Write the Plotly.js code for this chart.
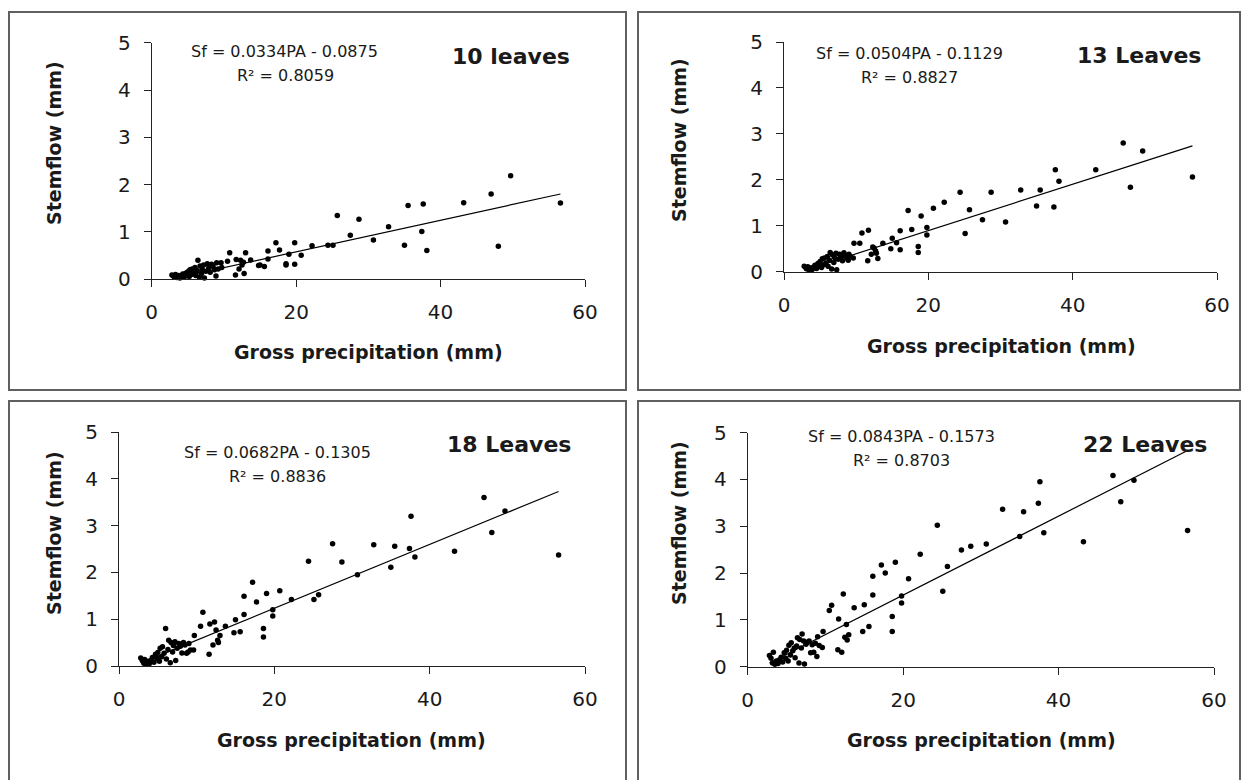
<!DOCTYPE html>
<html>
<head>
<meta charset="utf-8">
<script src="https://cdn.plot.ly/plotly-3.0.1.min.js"></script>
<style>html,body{margin:0;padding:0;background:#fff;}#chart{width:1243px;height:780px;}</style>
</head>
<body>
<div id="chart"></div>
<script>
// ---- data ----
const precip = [2.8, 3.0, 3.2, 3.3, 3.5, 3.7, 3.9, 4.1, 4.3, 4.5, 4.7, 4.9, 5.0, 5.2, 5.3, 5.5, 5.6, 5.8, 6.0, 6.1,
  6.3, 6.4, 6.6, 6.7, 6.9, 7.0, 7.2, 7.3, 7.5, 7.7, 7.9, 8.1, 8.3, 8.5, 8.7, 8.9, 9.0, 9.2,
  9.6, 9.7, 10.5, 10.8, 11.6, 11.7, 12.1, 12.3, 12.5, 12.7, 12.8, 13.0, 13.7, 14.8, 15.0, 15.6, 16.1, 16.1,
  17.2, 17.7, 18.6, 18.6, 19.0, 19.8, 19.8, 20.7, 22.2, 24.4, 25.1, 25.7, 27.5, 28.7, 30.7, 32.8, 35.0, 35.5,
  37.4, 37.6, 38.1, 43.2, 47.0, 48.0, 49.7, 56.6];
const sf10 = [0.09, 0.07, 0.05, 0.10, 0.04, 0.08, 0.03, 0.06, 0.11, 0.05, 0.13, 0.08, 0.16, 0.06, 0.20, 0.10, 0.22, 0.14, 0.25, 0.08,
  0.18, 0.40, 0.05, 0.28, 0.12, 0.21, 0.30, 0.03, 0.17, 0.33, 0.24, 0.15, 0.32, 0.27, 0.20, 0.07, 0.35, 0.22,
  0.35, 0.25, 0.38, 0.56, 0.09, 0.42, 0.22, 0.40, 0.30, 0.36, 0.12, 0.56, 0.41, 0.29, 0.30, 0.27, 0.43, 0.60,
  0.77, 0.62, 0.30, 0.33, 0.53, 0.77, 0.32, 0.51, 0.71, 0.72, 0.72, 1.35, 0.93, 1.27, 0.83, 1.11, 0.72, 1.56,
  1.01, 1.59, 0.61, 1.62, 1.80, 0.70, 2.19, 1.61];
const sf13 = [0.12, 0.09, 0.06, 0.11, 0.04, 0.08, 0.05, 0.10, 0.14, 0.07, 0.18, 0.12, 0.22, 0.09, 0.28, 0.15, 0.30, 0.19, 0.33, 0.12,
  0.25, 0.42, 0.06, 0.37, 0.20, 0.31, 0.40, 0.04, 0.27, 0.38, 0.33, 0.24, 0.41, 0.36, 0.30, 0.25, 0.38, 0.33,
  0.30, 0.62, 0.62, 0.84, 0.24, 0.90, 0.38, 0.54, 0.51, 0.45, 0.40, 0.29, 0.62, 0.50, 0.73, 0.63, 0.48, 0.89,
  1.33, 0.92, 0.42, 0.55, 1.21, 0.96, 0.80, 1.38, 1.51, 1.73, 0.83, 1.35, 1.13, 1.73, 1.08, 1.78, 1.43, 1.78,
  1.41, 2.22, 1.97, 2.22, 2.80, 1.84, 2.63, 2.06];
const sf18 = [0.17, 0.12, 0.06, 0.14, 0.04, 0.10, 0.05, 0.12, 0.18, 0.08, 0.25, 0.16, 0.29, 0.10, 0.38, 0.20, 0.41, 0.27, 0.80, 0.15,
  0.35, 0.55, 0.07, 0.50, 0.30, 0.44, 0.52, 0.12, 0.38, 0.48, 0.42, 0.28, 0.50, 0.45, 0.27, 0.30, 0.48, 0.34,
  0.34, 0.65, 0.85, 1.15, 0.25, 0.90, 0.45, 0.94, 0.77, 0.55, 0.50, 0.65, 0.85, 0.71, 0.99, 0.73, 1.10, 1.49,
  1.79, 1.37, 0.62, 0.80, 1.55, 1.20, 1.07, 1.61, 1.42, 2.24, 1.42, 1.52, 2.61, 2.22, 1.95, 2.59, 2.11, 2.56,
  2.51, 3.20, 2.33, 2.45, 3.60, 2.85, 3.31, 2.37];
const sf22 = [0.24, 0.18, 0.08, 0.31, 0.05, 0.12, 0.07, 0.15, 0.20, 0.10, 0.30, 0.18, 0.35, 0.12, 0.46, 0.25, 0.51, 0.34, 0.40, 0.19,
  0.44, 0.62, 0.08, 0.58, 0.40, 0.70, 0.55, 0.06, 0.48, 0.52, 0.55, 0.30, 0.47, 0.31, 0.50, 0.22, 0.64, 0.45,
  0.41, 0.75, 1.20, 1.31, 0.36, 1.02, 0.31, 1.55, 0.63, 0.90, 0.57, 0.68, 1.26, 0.75, 1.32, 0.86, 1.53, 1.93,
  2.17, 2.00, 0.75, 1.07, 2.23, 1.51, 1.36, 1.88, 2.40, 3.02, 1.61, 2.14, 2.49, 2.57, 2.62, 3.36, 2.78, 3.31,
  3.49, 3.95, 2.86, 2.67, 4.08, 3.52, 3.98, 2.91];
const slopes = [0.0334, 0.0504, 0.0682, 0.0843];
const intercepts = [-0.0875, -0.1129, -0.1305, -0.1573];
const rSquared = [0.8059, 0.8827, 0.8836, 0.8703];
const panelLabels = ['10 leaves', '13 Leaves', '18 Leaves', '22 Leaves'];
const xTickVals = [0, 20, 40, 60];
const yTickVals = [0, 1, 2, 3, 4, 5];
const xTitleText = 'Gross precipitation (mm)';
const yTitleText = 'Stemflow (mm)';
const series = [sf10, sf13, sf18, sf22];

// ---- layout geometry (pixels) ----
const W = 1243, H = 780;
const px = v => v / W, py = v => 1 - v / H;
const panels = [
  {plot: [151.7, 585, 42.7, 279.3], box: [9, 626, 12, 390], ytitle: [54, 143], xtitle: [368, 352], eq: [284, 52], r2: [285, 75], label: [511, 57]},
  {plot: [784, 1217, 42, 271.7], box: [638, 1240, 12, 390], ytitle: [679, 140], xtitle: [1001, 346], eq: [909, 54], r2: [909, 78], label: [1139, 56]},
  {plot: [119, 585, 432, 666], box: [9, 626, 401, 785], ytitle: [54, 533], xtitle: [351, 740], eq: [277, 452], r2: [277, 476], label: [509, 444]},
  {plot: [747.7, 1214, 432.5, 666.7], box: [638, 1240, 401, 785], ytitle: [679, 523], xtitle: [981, 740], eq: [901, 436], r2: [901, 460], label: [1145, 444]}
];

const FONT = 'DejaVu Sans';
const INK = '#1a1a1a';
const traces = [];
const annotations = [];
const shapes = [];
const layout = {
  width: W, height: H, margin: {l: 0, r: 0, t: 0, b: 0},
  paper_bgcolor: '#ffffff', plot_bgcolor: 'rgba(0,0,0,0)',
  showlegend: false, font: {family: FONT, color: INK}
};

const xMin = Math.min(...precip), xMax = Math.max(...precip);

panels.forEach((p, i) => {
  const s = i === 0 ? '' : String(i + 1);
  const xa = 'x' + s, ya = 'y' + s;
  traces.push({
    type: 'scatter', mode: 'markers', x: precip, y: series[i], xaxis: xa, yaxis: ya,
    marker: {color: '#000', size: 5.5}, cliponaxis: false, hoverinfo: 'x+y'
  });
  traces.push({
    type: 'scatter', mode: 'lines', x: [xMin, xMax],
    y: [slopes[i] * xMin + intercepts[i], slopes[i] * xMax + intercepts[i]],
    xaxis: xa, yaxis: ya, line: {color: '#000', width: 1.2}, cliponaxis: false, hoverinfo: 'skip'
  });
  const common = {
    ticks: 'outside', ticklen: 7, tickwidth: 1, tickcolor: '#222',
    showline: true, linecolor: '#222', linewidth: 1,
    showgrid: false, zeroline: false, fixedrange: true,
    tickfont: {family: FONT, size: 20, color: INK}
  };
  layout['xaxis' + s] = Object.assign({}, common, {
    domain: [px(p.plot[0]), px(p.plot[1])], range: [0, 60], tickvals: xTickVals,
    anchor: ya, ticklabelstandoff: 8
  });
  layout['yaxis' + s] = Object.assign({}, common, {
    domain: [py(p.plot[3]), py(p.plot[2])], range: [0, 5], tickvals: yTickVals,
    anchor: xa, ticklabelstandoff: 9
  });
  shapes.push({type: 'rect', xref: 'paper', yref: 'paper',
    x0: px(p.box[0]), x1: px(p.box[1]), y0: py(p.box[3]), y1: py(p.box[2]),
    line: {color: '#606060', width: 2}, fillcolor: 'rgba(0,0,0,0)'});
  const ann = (pos, text, extra) => annotations.push(Object.assign({
    xref: 'paper', yref: 'paper', x: px(pos[0]), y: py(pos[1]), text: text,
    showarrow: false, xanchor: 'center', yanchor: 'middle'
  }, extra));
  ann(p.ytitle, '<b>' + yTitleText + '</b>', {textangle: -90, font: {family: FONT, size: 19, color: INK}});
  ann(p.xtitle, '<b>' + xTitleText + '</b>', {font: {family: FONT, size: 19, color: INK}});
  const eqText = 'Sf = ' + slopes[i].toFixed(4) + 'PA - ' + Math.abs(intercepts[i]).toFixed(4);
  ann(p.eq, eqText, {font: {family: FONT, size: 16, color: INK}});
  ann(p.r2, 'R\u00B2 = ' + rSquared[i].toFixed(4), {font: {family: FONT, size: 16, color: INK}});
  ann(p.label, '<b>' + panelLabels[i] + '</b>', {font: {family: FONT, size: 22, color: INK}});
});

layout.annotations = annotations;
layout.shapes = shapes;
Plotly.newPlot('chart', traces, layout, {staticPlot: true, displayModeBar: false});
</script>
</body>
</html>
